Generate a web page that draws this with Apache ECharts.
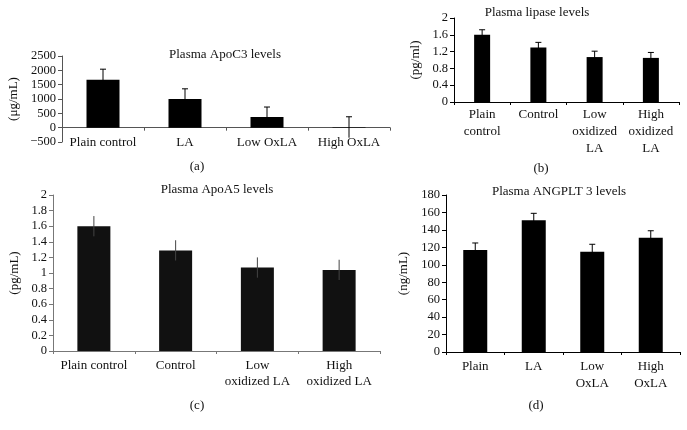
<!DOCTYPE html>
<html><head><meta charset="utf-8">
<script src="https://cdn.jsdelivr.net/npm/echarts@6/dist/echarts.min.js"></script>
<style>html,body{margin:0;padding:0;background:#fff}#c{width:687px;height:430px}</style>
</head><body><div id="c"></div>
<script>
// Panel (a)
const catsA = ['Plain control', 'LA', 'Low OxLA', 'High OxLA'];
const valsA = [1670, 1000, 370, 15];
const errsA = [370, 355, 350, 365];
const ticksA = { min: -500, max: 2500, interval: 500 };
// Panel (b)
const catsB = ['Plain\ncontrol', 'Control', 'Low\noxidized\nLA', 'High\noxidized\nLA'];
const valsB = [1.6, 1.3, 1.07, 1.05];
const errsB = [0.12, 0.12, 0.14, 0.13];
const ticksB = { min: 0, max: 2, interval: 0.4 };
// Panel (c)
const catsC = ['Plain control', 'Control', 'Low\noxidized LA', 'High\noxidized LA'];
const valsC = [1.6, 1.29, 1.07, 1.04];
const errsC = [0.13, 0.13, 0.13, 0.13];
const ticksC = { min: 0, max: 2, interval: 0.2 };
// Panel (d)
const catsD = ['Plain', 'LA', 'Low\nOxLA', 'High\nOxLA'];
const valsD = [117, 151, 115, 131];
const errsD = [8, 8, 8.5, 8];
const ticksD = { min: 0, max: 180, interval: 20 };

const FONT = '"Liberation Serif", "DejaVu Serif", serif';

function errRender(cap, color) {
  return function (params, api) {
    const i = api.value(0), v = api.value(1), e = api.value(2);
    const top = api.coord([i, v + e]);
    const bot = api.coord([i, v - e]);
    const children = [{ type: 'line', shape: { x1: top[0], y1: top[1], x2: bot[0], y2: bot[1] }, style: { stroke: color, lineWidth: 1 } }];
    if (cap) children.push({ type: 'line', shape: { x1: top[0] - 3, y1: top[1], x2: top[0] + 3, y2: top[1] }, style: { stroke: color, lineWidth: 1 } });
    return { type: 'group', children };
  };
}

const panels = [
  { cats: catsA, vals: valsA, errs: errsA, ticks: ticksA, grid: { left: 62, top: 56, width: 328, height: 86 }, name: '(μg/mL)', gap: 42, axisColor: '#555', barColor: '#000', barW: 33, cap: true, errColor: '#000', margin: -7, lh: 16, dec: 0 },
  { cats: catsB, vals: valsB, errs: errsB, ticks: ticksB, grid: { left: 454, top: 18, width: 225, height: 84 }, name: '(pg/ml)', gap: 32, axisColor: '#000', barColor: '#000', barW: 16, cap: true, errColor: '#000', margin: 4, lh: 17, dec: 1 },
  { cats: catsC, vals: valsC, errs: errsC, ticks: ticksC, grid: { left: 53, top: 195, width: 327, height: 156 }, name: '(pg/mL)', gap: 32, axisColor: '#777', barColor: '#111', barW: 33, cap: false, errColor: '#444', margin: 7, lh: 16, dec: 1 },
  { cats: catsD, vals: valsD, errs: errsD, ticks: ticksD, grid: { left: 446, top: 195, width: 234, height: 157 }, name: '(ng/mL)', gap: 36, axisColor: '#000', barColor: '#000', barW: 24, cap: true, errColor: '#000', margin: 6, lh: 17, dec: 0 }
];

const option = {
  animation: false,
  backgroundColor: '#fff',
  textStyle: { fontFamily: FONT, color: '#000' },
  title: [
    { text: 'Plasma ApoC3 levels', left: 225, top: 48, textAlign: 'center' },
    { text: 'Plasma lipase levels', left: 537, top: 6, textAlign: 'center' },
    { text: 'Plasma ApoA5 levels', left: 217, top: 183, textAlign: 'center' },
    { text: 'Plasma ANGPLT 3 levels', left: 559, top: 185, textAlign: 'center' },
    { text: '(a)', left: 197, top: 160, textAlign: 'center' },
    { text: '(b)', left: 541, top: 162, textAlign: 'center' },
    { text: '(c)', left: 197, top: 399, textAlign: 'center' },
    { text: '(d)', left: 536, top: 399, textAlign: 'center' }
  ].map(t => Object.assign({ padding: 0, textStyle: { fontFamily: FONT, fontSize: 13, fontWeight: 'normal', color: '#111' } }, t)),
  grid: panels.map(p => p.grid),
  xAxis: panels.map((p, i) => ({
    type: 'category', gridIndex: i, data: p.cats,
    axisLine: { onZero: true, lineStyle: { color: p.axisColor, width: 1 } },
    axisTick: { show: true, inside: false, length: 3, lineStyle: { color: p.axisColor } },
    axisLabel: { fontFamily: FONT, fontSize: 13, color: '#111', margin: p.margin, lineHeight: p.lh, interval: 0 }
  })),
  yAxis: panels.map((p, i) => ({
    type: 'value', gridIndex: i, min: p.ticks.min, max: p.ticks.max, interval: p.ticks.interval,
    name: p.name, nameLocation: 'middle', nameRotate: 90, nameGap: p.gap,
    nameTextStyle: { fontFamily: FONT, fontSize: 13, color: '#111' },
    axisLine: { show: true, lineStyle: { color: p.axisColor, width: 1 } },
    axisTick: { show: true, length: 4, lineStyle: { color: p.axisColor } },
    splitLine: { show: false },
    axisLabel: { fontFamily: FONT, fontSize: 12.5, color: '#111', margin: 6,
      formatter: v => { const s = p.dec ? String(Math.round(v * 10) / 10) : String(v); return s.replace('-', '\u2212'); } }
  })),
  series: []
};

panels.forEach((p, i) => {
  option.series.push({
    type: 'bar', xAxisIndex: i, yAxisIndex: i, data: p.vals, barWidth: p.barW,
    itemStyle: { color: p.barColor }, z: 2
  });
  option.series.push({
    type: 'custom', xAxisIndex: i, yAxisIndex: i, z: 3,
    data: p.vals.map((v, k) => [k, v, p.errs[k]]),
    encode: { x: 0, y: 1 },
    renderItem: errRender(p.cap, p.errColor)
  });
});

const chart = echarts.init(document.getElementById('c'), null, { renderer: 'canvas' });
chart.setOption(option);
</script>
</body></html>
